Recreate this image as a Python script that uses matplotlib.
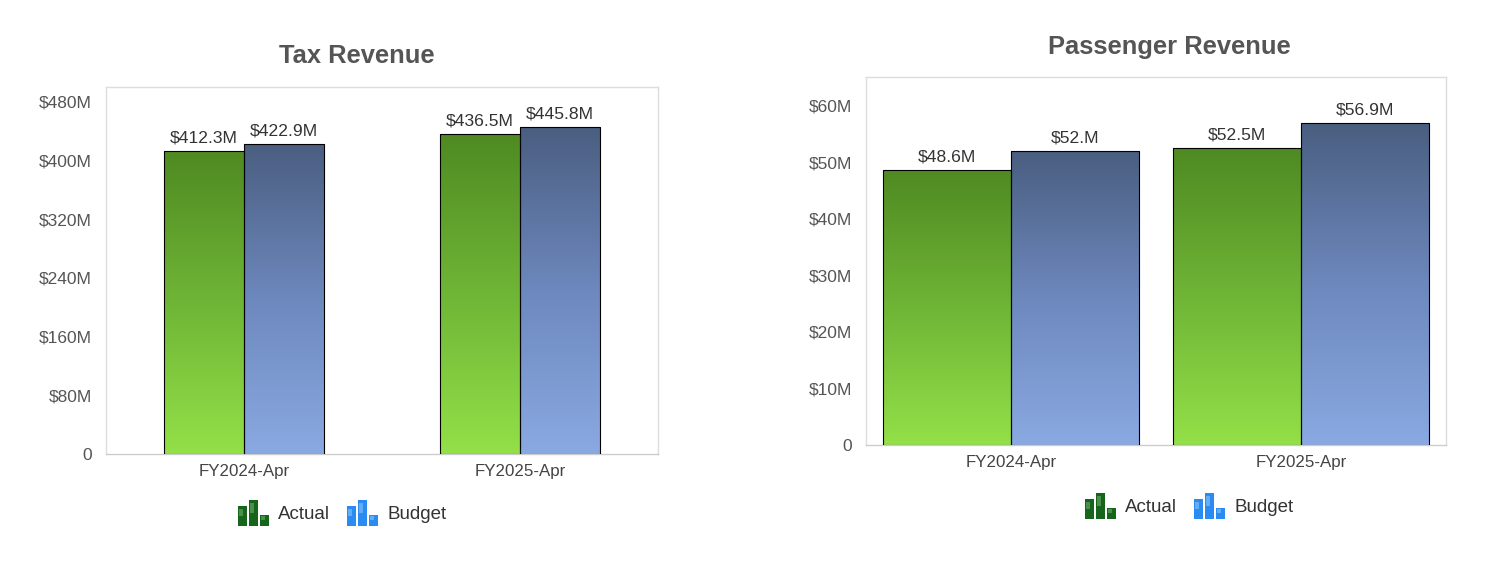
import numpy as np
import matplotlib
matplotlib.use("Agg")
import matplotlib.pyplot as plt
from matplotlib.patches import Rectangle
from matplotlib.legend_handler import HandlerBase
from matplotlib.colors import LinearSegmentedColormap

plt.rcParams['font.family'] = ['Liberation Sans', 'DejaVu Sans']

categories = ["FY2024-Apr", "FY2025-Apr"]
tax_actual = [412.3, 436.5]
tax_budget = [422.9, 445.8]
tax_labels_actual = ["$412.3M", "$436.5M"]
tax_labels_budget = ["$422.9M", "$445.8M"]
tax_ticks = [0, 80, 160, 240, 320, 400, 480]
tax_ticklabels = ["0", "$80M", "$160M", "$240M", "$320M", "$400M", "$480M"]

pass_actual = [48.6, 52.5]
pass_budget = [52.0, 56.9]
pass_labels_actual = ["$48.6M", "$52.5M"]
pass_labels_budget = ["$52.M", "$56.9M"]
pass_ticks = [0, 10, 20, 30, 40, 50, 60]
pass_ticklabels = ["0", "$10M", "$20M", "$30M", "$40M", "$50M", "$60M"]

green_cmap = LinearSegmentedColormap.from_list("g", ["#93e048", "#6fb536", "#4f8a22"])
blue_cmap = LinearSegmentedColormap.from_list("b", ["#8aa9e2", "#6d88bd", "#4a5e80"])


class HandlerBars(HandlerBase):
    # little three-bar icon like the original legend
    def create_artists(self, legend, orig_handle, xdescent, ydescent,
                       width, height, fontsize, trans):
        col = orig_handle.get_facecolor()
        light = orig_handle.get_edgecolor()
        bw, gap = 6.4, 1.6
        hs = [13.7, 18.7, 7.9]
        out = []
        for i, h in enumerate(hs):
            x0 = -xdescent + i * (bw + gap)
            out.append(Rectangle((x0, -5), bw, h, facecolor=col,
                                 edgecolor='none', transform=trans))
            out.append(Rectangle((x0 + 1.0, -5 + h * 0.5), bw * 0.45, h * 0.35,
                                 facecolor=light, edgecolor='none', alpha=0.35,
                                 transform=trans))
        return out


def gradient_bars(ax, xs, vals, width, cmap):
    grad = np.linspace(0, 1, 256).reshape(-1, 1)
    bars = ax.bar(xs, vals, width, facecolor='none', edgecolor='black', linewidth=0.8, zorder=3)
    for b in bars:
        x0, y0 = b.get_x(), b.get_y()
        w, h = b.get_width(), b.get_height()
        im = ax.imshow(grad, extent=[x0, x0 + w, y0, y0 + h], origin='lower',
                       cmap=cmap, aspect='auto', zorder=2)
        im.set_clip_path(b)
    return bars


def draw_panel(fig, rect, title, title_xy, actual, budget, lab_a, lab_b,
               ticks, ticklabels, ymax, width, leg_xy):
    ax = fig.add_axes(rect)
    x = np.arange(len(categories))
    gradient_bars(ax, x - width / 2, actual, width, green_cmap)
    gradient_bars(ax, x + width / 2, budget, width, blue_cmap)
    for i in range(len(categories)):
        ax.text(x[i] - width / 2, actual[i] + ymax * 0.015, lab_a[i], ha='center', va='bottom',
                fontsize=12.6, color='#333333')
        ax.text(x[i] + width / 2, budget[i] + ymax * 0.015, lab_b[i], ha='center', va='bottom',
                fontsize=12.6, color='#333333')
    ax.set_xlim(-0.5, 1.5)
    ax.set_ylim(0, ymax)
    ax.set_xticks(x)
    ax.set_xticklabels(categories, fontsize=12.2, color='#444444')
    ax.set_yticks(ticks)
    ax.set_yticklabels(ticklabels, fontsize=12.5, color='#555555')
    ax.tick_params(axis='y', length=0, pad=10)
    ax.tick_params(axis='x', length=0, pad=7)
    for s in ax.spines.values():
        s.set_color('#dddddd')
        s.set_linewidth(1)
    ax.spines['bottom'].set_color('#cccccc')
    fig.text(title_xy[0], title_xy[1], title, ha='center', va='center',
             fontsize=18.4, fontweight='bold', color='#555555')
    h1 = Rectangle((0, 0), 1, 1, facecolor='#15661a', edgecolor='#a8e0a8')
    h2 = Rectangle((0, 0), 1, 1, facecolor='#2a8cf2', edgecolor='#d0e8ff')
    fig.legend([h1, h2], ["Actual", "Budget"], loc='center',
               bbox_to_anchor=leg_xy, ncol=2, frameon=False,
               handler_map={Rectangle: HandlerBars()}, fontsize=13.5,
               handlelength=1.75, handletextpad=0.4, columnspacing=0.9,
               labelcolor='#333333')
    return ax


W, H = 1485, 577
fig = plt.figure(figsize=(14.85, 5.77), dpi=100)
draw_panel(fig, [106 / W, 1 - 454 / H, 552 / W, 367 / H], "Tax Revenue",
           (357 / W, 1 - 56 / H), tax_actual, tax_budget, tax_labels_actual, tax_labels_budget,
           tax_ticks, tax_ticklabels, 500, 0.29, (342 / W, 1 - 514 / H))
draw_panel(fig, [866 / W, 1 - 445 / H, 580 / W, 368 / H], "Passenger Revenue",
           (1169 / W, 1 - 47 / H), pass_actual, pass_budget, pass_labels_actual, pass_labels_budget,
           pass_ticks, pass_ticklabels, 65.1, 0.443, (1189 / W, 1 - 507 / H))
fig.savefig("out.png", dpi=100)
